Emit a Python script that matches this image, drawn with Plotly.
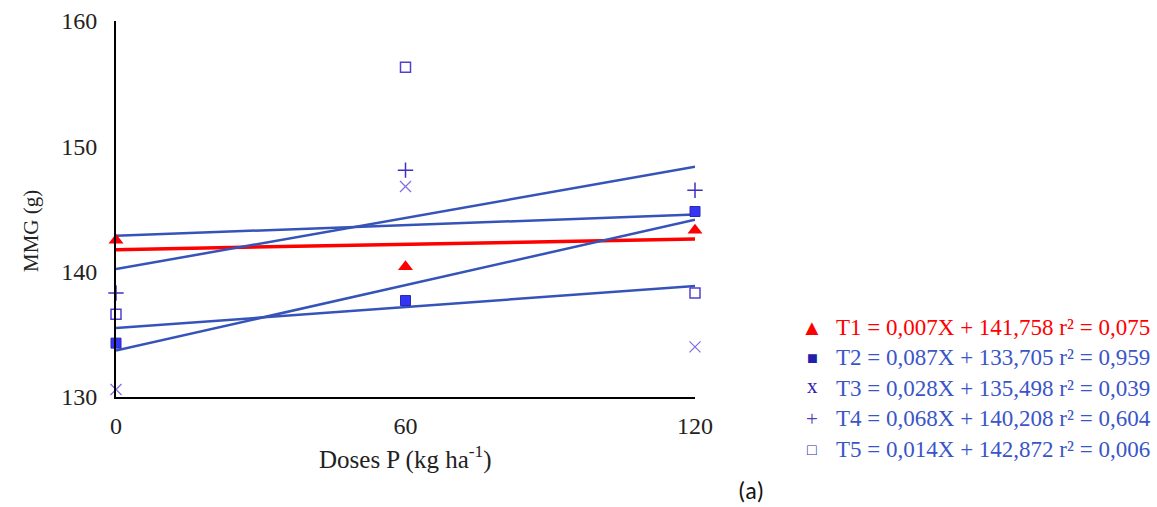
import plotly.graph_objects as go

# ---- data ----
doses = [0, 60, 120]
series_names = ["T1", "T2", "T3", "T4", "T5"]
t1_vals = [142.5, 140.4, 143.3]
t2_vals = [134.3, 137.7, 144.8]
t3_vals = [130.6, 146.8, 134.0]
t4_vals = [138.3, 148.1, 146.5]
t5_vals = [136.6, 156.3, 138.3]
slopes = [0.007, 0.087, 0.028, 0.068, 0.014]
intercepts = [141.758, 133.705, 135.498, 140.208, 142.872]
r2_vals = ["0,075", "0,959", "0,039", "0,604", "0,006"]
x_ticks = [0, 60, 120]
y_ticks = [130, 140, 150, 160]

values = [t1_vals, t2_vals, t3_vals, t4_vals, t5_vals]

SERIF = "Liberation Serif, Times New Roman, serif"
RED = "#ff0000"
LINE_BLUE = "#3553b8"
TEXT_BLUE = "#3a55c8"

marker_styles = [
    dict(symbol="triangle-up", size=13, color=RED, line=dict(width=0)),
    dict(symbol="square", size=10, color="#3535f5", line=dict(width=1, color="#2a2ab0")),
    dict(symbol="x-thin", size=11, color="rgba(0,0,0,0)", line=dict(width=1.3, color="#8070e0")),
    dict(symbol="cross-thin", size=11, color="rgba(0,0,0,0)", line=dict(width=1.5, color="#4030c0")),
    dict(symbol="square-open", size=10, color="#5040d0", line=dict(width=1.5, color="#5040d0")),
]
legend_symbols = ["▲", "■", "x", "+", "□"]
legend_sym_colors = [RED, "#2020a8", "#3020b0", "#5040b0", "#3030b0"]
legend_sym_sizes = [22, 18, 21, 21, 16]

fig = go.Figure()

# trend lines (drawn first, behind markers)
for i, name in enumerate(series_names):
    xs = [doses[0], doses[-1]]
    ys = [intercepts[i] + slopes[i] * x for x in xs]
    fig.add_trace(go.Scatter(
        x=xs, y=ys, mode="lines",
        line=dict(color=RED if i == 0 else LINE_BLUE, width=3.5 if i == 0 else 2.5),
        showlegend=False, hoverinfo="skip", cliponaxis=False,
    ))

# draw order: put T1 on top
for i in [1, 2, 3, 4, 0]:
    fig.add_trace(go.Scatter(
        x=doses, y=values[i], mode="markers", name=series_names[i],
        marker=marker_styles[i], showlegend=False, cliponaxis=False,
    ))

# plot area geometry in pixels
L, R, T, B = 116, 695, 21, 397
W, H = R - L, B - T

def px(xp):
    return (xp - L) / W

def py(yp):
    return (B - yp) / H

annotations = []
row_y = [327, 357.5, 388, 418.5, 449]
for i, name in enumerate(series_names):
    eq = f"{name} = {slopes[i]:.3f}X + {intercepts[i]:.3f} r² = {r2_vals[i]}".replace(".", ",")
    annotations.append(dict(
        x=px(834), y=py(row_y[i]), xref="paper", yref="paper",
        xanchor="left", yanchor="middle", showarrow=False,
        text=eq, font=dict(family=SERIF, size=23, color=RED if i == 0 else TEXT_BLUE),
    ))
    annotations.append(dict(
        x=px(812), y=py(row_y[i] - (2 if i == 2 else 0)), xref="paper", yref="paper",
        xanchor="center", yanchor="middle", showarrow=False,
        text=legend_symbols[i],
        font=dict(family=SERIF, size=legend_sym_sizes[i], color=legend_sym_colors[i]),
    ))

# y title
annotations.append(dict(
    x=px(31), y=py(231), xref="paper", yref="paper", textangle=-90,
    xanchor="center", yanchor="middle", showarrow=False,
    text="MMG (g)", font=dict(family=SERIF, size=21, color="#222"),
))
# x title
annotations.append(dict(
    x=px(405), y=py(457), xref="paper", yref="paper",
    xanchor="center", yanchor="middle", showarrow=False,
    text="Doses P (kg ha<sup>-1</sup>)", font=dict(family=SERIF, size=25, color="#222"),
))
# panel label
annotations.append(dict(
    x=px(751), y=py(490), xref="paper", yref="paper",
    xanchor="center", yanchor="middle", showarrow=False,
    text="(a)", font=dict(family="Carlito, Open Sans, Noto Sans, sans-serif", size=24, color="#111"),
))

fig.update_layout(
    width=1157, height=507,
    margin=dict(l=L, r=1157 - R, t=T, b=507 - B, autoexpand=False),
    paper_bgcolor="white", plot_bgcolor="white",
    showlegend=False,
    annotations=annotations,
    xaxis=dict(
        range=[0, 120], tickvals=x_ticks, ticktext=[str(v) for v in x_ticks],
        showgrid=False, zeroline=False, showline=True, linecolor="black", linewidth=2,
        ticks="", tickfont=dict(family=SERIF, size=24, color="#222"),
        ticklabelstandoff=6, fixedrange=True,
    ),
    yaxis=dict(
        range=[130, 160], tickvals=y_ticks, ticktext=[str(v) for v in y_ticks],
        showgrid=False, zeroline=False, showline=True, linecolor="black", linewidth=2,
        ticks="", tickfont=dict(family=SERIF, size=24, color="#222"),
        ticklabelstandoff=12, fixedrange=True,
    ),
)

fig.write_html(
    "out.html",
    config={"displayModeBar": False},
    post_script="document.body.style.margin='0';document.body.style.overflow='hidden';",
)
